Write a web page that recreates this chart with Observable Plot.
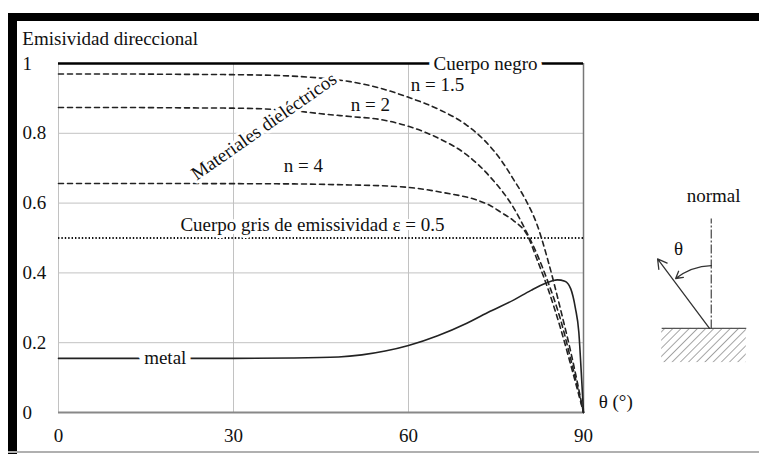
<!DOCTYPE html>
<html>
<head>
<meta charset="utf-8">
<script src="https://cdn.jsdelivr.net/npm/d3@7"></script>
<script src="https://cdn.jsdelivr.net/npm/@observablehq/plot@0.6"></script>
<style>
  html, body { margin: 0; padding: 0; background: #fff; }
  #wrap { position: relative; width: 759px; height: 454px; overflow: hidden; background: #fff; }
  #wrap svg { position: absolute; left: 0; top: 0; }
  .bar { position: absolute; background: #000; }
</style>
</head>
<body>
<div id="wrap">
  <div class="bar" style="left:8px;top:13px;width:751px;height:8px;"></div>
  <div class="bar" style="left:8px;top:13px;width:9px;height:441px;"></div>
  <div class="bar" style="left:8px;top:451px;width:751px;height:2px;background:#b0b0b0;"></div>
</div>
<script>
// ---- data ----
const xTicks = [0, 30, 60, 90];
const yTicks = [0, 0.2, 0.4, 0.6, 0.8, 1];
const blackBody = 1;
const grayBody = 0.5;

// dielectric n = 1.5 : [theta (deg), emissivity]
const n15 = [[0,0.97],[10,0.97],[20,0.969],[30,0.968],[40,0.964],[45,0.958],[50,0.948],[55,0.93],[60,0.903],[65,0.87],[70,0.823],[73,0.78],[76,0.72],[78,0.668],[80,0.612],[82,0.54],[84,0.43],[86,0.3],[88,0.16],[90,0]];
// dielectric n = 2
const n2 = [[0,0.874],[10,0.874],[20,0.873],[30,0.872],[35,0.87],[40,0.865],[45,0.856],[50,0.848],[55,0.84],[60,0.82],[65,0.787],[70,0.738],[74,0.675],[78,0.587],[80,0.525],[82,0.455],[84,0.37],[86,0.27],[88,0.14],[90,0]];
// dielectric n = 4
const n4 = [[0,0.656],[20,0.656],[40,0.655],[50,0.652],[55,0.65],[60,0.645],[66,0.63],[72,0.607],[74,0.593],[76,0.572],[78,0.55],[80.4,0.507],[82,0.44],[84,0.35],[86,0.245],[88,0.125],[90,0]];
// metal
const metal = [[0,0.155],[10,0.155],[20,0.155],[30,0.155],[40,0.156],[48,0.159],[52,0.165],[56,0.176],[60,0.192],[65,0.22],[70,0.256],[74,0.29],[78,0.322],[81,0.35],[83.5,0.37],[85.5,0.38],[86.8,0.376],[87.8,0.355],[88.6,0.3],[89.2,0.23],[89.6,0.12],[90,0]];

// annotation texts, anchored at their left edge (data units)
const startLabels = [
  {text: "Emisividad direccional", x: -6.2, y: 1.07, halo: 0},
  {text: "n = 1.5", x: 60.4, y: 0.94, halo: 0},
  {text: "n = 2", x: 50.1, y: 0.882, halo: 0},
  {text: "n = 4", x: 38.6, y: 0.706, halo: 0},
  {text: "Cuerpo gris de emissividad ε = 0.5", x: 20.9, y: 0.537, halo: 6},
  {text: "θ (°)", x: 92.6, y: 0.03, halo: 0}
];
// annotation texts, anchored at their centre (data units)
const middleLabels = [
  {text: "Cuerpo negro", x: 73.2, y: 1, rotate: 0, halo: 10},
  {text: "Materiales dieléctricos", x: 35.2, y: 0.82, rotate: -35, halo: 6},
  {text: "metal", x: 18.3, y: 0.155, rotate: 0, halo: 12},
  {text: "normal", x: 112.3, y: 0.622, rotate: 0, halo: 0},
  {text: "θ", x: 106.3, y: 0.47, rotate: 0, halo: 0}
];

// inset sketch (data units outside the plotted domain)
const sketchSurface = {x1: 103.4, x2: 117.9, yTop: 0.241, yBottom: 0.143};
const sketchNormal = {x: 111.9, y1: 0.241, y2: 0.556};
const sketchRay = {x1: 111.6, y1: 0.241, x2: 102.7, y2: 0.44};
const sketchArc = {x1: 111.9, y1: 0.421, x2: 105.8, y2: 0.384};

// ---- build tables ----
const toRows = (arr, name) => arr.map(([t, e]) => ({theta: t, e, series: name}));
const dielectric = [...toRows(n15, "n15"), ...toRows(n2, "n2"), ...toRows(n4, "n4")];
const metalRows = toRows(metal, "metal");
const font = "Liberation Serif, Times New Roman, serif";

const chart = Plot.plot({
  width: 759,
  height: 454,
  marginLeft: 58,
  marginRight: 176,
  marginTop: 63,
  marginBottom: 42,
  x: {domain: [0, 90], label: null},
  y: {domain: [0, 1], label: null},
  style: {fontFamily: font, fontSize: "19px", background: "transparent", color: "#111", overflow: "visible"},
  marks: [
    Plot.gridX([30, 60], {stroke: "#c2c2c2", strokeOpacity: 1, strokeWidth: 1}),
    Plot.gridY([0.2, 0.4, 0.6, 0.8], {stroke: "#c2c2c2", strokeOpacity: 1, strokeWidth: 1}),
    Plot.ruleX([0], {stroke: "#c2c2c2", strokeWidth: 1}),
    Plot.ruleX([90], {stroke: "#777", strokeWidth: 1.5}),
    Plot.ruleY([0], {stroke: "#888", strokeWidth: 2}),
    Plot.ruleY([grayBody], {x1: 0, x2: 90, stroke: "#111", strokeWidth: 2, strokeDasharray: "1.4,2"}),
    Plot.line(dielectric, {x: "theta", y: "e", z: "series", stroke: "#222", strokeWidth: 1.6, strokeDasharray: "5,4", curve: "monotone-x"}),
    Plot.line(metalRows, {x: "theta", y: "e", stroke: "#222", strokeWidth: 1.6, curve: "monotone-x"}),
    Plot.ruleY([blackBody], {x1: 0, x2: 90, stroke: "#000", strokeWidth: 2.6}),
    Plot.text(startLabels, {x: "x", y: "y", text: "text", textAnchor: "start",
      fontSize: 19, fontFamily: font, fill: "#111", stroke: "white", strokeWidth: "halo"}),
    Plot.text(middleLabels, {x: "x", y: "y", text: "text", textAnchor: "middle", rotate: "rotate",
      fontSize: 19, fontFamily: font, fill: "#111", stroke: "white", strokeWidth: "halo"}),
    Plot.axisX(xTicks, {tickSize: 0, tickPadding: 16, fontSize: 19, fontFamily: font, tickFormat: d => String(d), label: null}),
    Plot.axisY(yTicks, {tickSize: 0, tickPadding: 36, textAnchor: "start", fontSize: 19, fontFamily: font, tickFormat: d => String(d), label: null}),
    // inset sketch
    Plot.rect([sketchSurface], {x1: "x1", x2: "x2", y1: "yBottom", y2: "yTop", fill: "url(#hatch)"}),
    Plot.link([sketchSurface], {x1: "x1", x2: "x2", y1: "yTop", y2: "yTop", stroke: "#555", strokeWidth: 1.3}),
    Plot.link([sketchNormal], {x1: "x", x2: "x", y1: "y1", y2: "y2", stroke: "#444", strokeWidth: 1.2, strokeDasharray: "9,2,2,2"}),
    Plot.arrow([sketchRay], {x1: "x1", y1: "y1", x2: "x2", y2: "y2", stroke: "#333", strokeWidth: 1.3, headLength: 12}),
    Plot.arrow([sketchArc], {x1: "x1", y1: "y1", x2: "x2", y2: "y2", stroke: "#333", strokeWidth: 1.3, headLength: 9, bend: -18})
  ]
});

const svg = d3.select(chart);
const defs = svg.insert("defs", ":first-child");
const pat = defs.append("pattern").attr("id", "hatch").attr("patternUnits", "userSpaceOnUse")
  .attr("width", 5.8).attr("height", 5.8).attr("patternTransform", "rotate(45)");
pat.append("line").attr("x1", 0).attr("y1", 0).attr("x2", 0).attr("y2", 5.8)
  .attr("stroke", "#888").attr("stroke-width", 1.5);

document.getElementById("wrap").insertBefore(chart, document.getElementById("wrap").firstChild);
</script>
</body>
</html>
